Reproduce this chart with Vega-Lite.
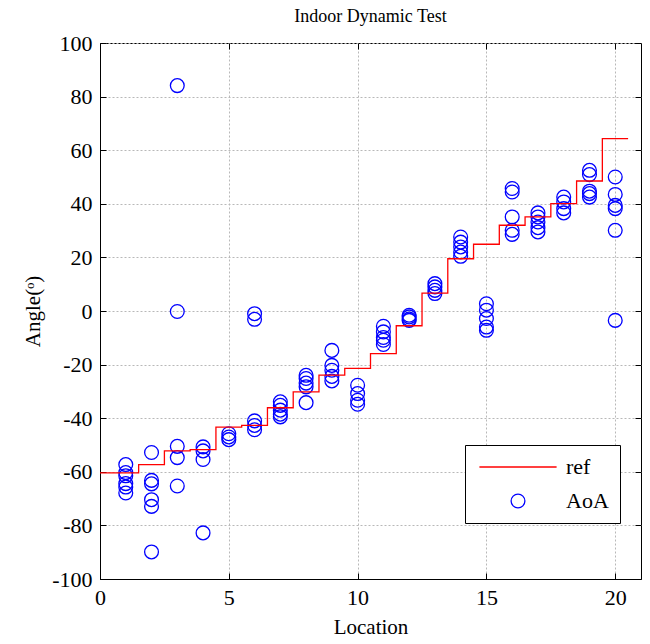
{
  "$schema": "https://vega.github.io/schema/vega-lite/v6.json",
  "width": 541,
  "height": 536,
  "autosize": "none",
  "padding": {"left": 100, "top": 43, "right": 9, "bottom": 65},
  "background": "white",
  "config": {
    "font": "Liberation Serif",
    "view": {"stroke": "black", "strokeWidth": 1},
    "axis": {"labelFont": "Liberation Serif", "titleFont": "Liberation Serif", "labelColor": "black", "titleColor": "black", "domainColor": "black", "tickColor": "black", "titleFontWeight": "normal"}
  },
  "title": {"text": "Indoor Dynamic Test", "fontSize": 18, "font": "Liberation Serif", "fontWeight": "normal", "color": "black", "offset": 6},
  "datasets": {
    "ref": [
      {"loc": 0, "angle": -60.4, "series": "ref"},
      {"loc": 1.5, "angle": -57.3, "series": "ref"},
      {"loc": 2.5, "angle": -52.2, "series": "ref"},
      {"loc": 3.5, "angle": -51.7, "series": "ref"},
      {"loc": 4.5, "angle": -43.3, "series": "ref"},
      {"loc": 5.5, "angle": -42.7, "series": "ref"},
      {"loc": 6.5, "angle": -36.1, "series": "ref"},
      {"loc": 7.5, "angle": -30.2, "series": "ref"},
      {"loc": 8.5, "angle": -23.9, "series": "ref"},
      {"loc": 9.5, "angle": -21.4, "series": "ref"},
      {"loc": 10.5, "angle": -15.9, "series": "ref"},
      {"loc": 11.5, "angle": -5.5, "series": "ref"},
      {"loc": 12.5, "angle": 6.7, "series": "ref"},
      {"loc": 13.5, "angle": 19.5, "series": "ref"},
      {"loc": 14.5, "angle": 24.9, "series": "ref"},
      {"loc": 15.5, "angle": 32.0, "series": "ref"},
      {"loc": 16.5, "angle": 35.1, "series": "ref"},
      {"loc": 17.5, "angle": 40.1, "series": "ref"},
      {"loc": 18.5, "angle": 48.5, "series": "ref"},
      {"loc": 19.5, "angle": 64.3, "series": "ref"},
      {"loc": 20.5, "angle": 64.3, "series": "ref"}
    ],
    "aoa": [
      {"loc": 1, "angle": -57.3, "series": "AoA"},
      {"loc": 1, "angle": -60.3, "series": "AoA"},
      {"loc": 1, "angle": -61.5, "series": "AoA"},
      {"loc": 1, "angle": -64.4, "series": "AoA"},
      {"loc": 1, "angle": -65.7, "series": "AoA"},
      {"loc": 1, "angle": -67.9, "series": "AoA"},
      {"loc": 2, "angle": -52.8, "series": "AoA"},
      {"loc": 2, "angle": -63.2, "series": "AoA"},
      {"loc": 2, "angle": -64.5, "series": "AoA"},
      {"loc": 2, "angle": -70.4, "series": "AoA"},
      {"loc": 2, "angle": -72.9, "series": "AoA"},
      {"loc": 2, "angle": -89.9, "series": "AoA"},
      {"loc": 3, "angle": 84.1, "series": "AoA"},
      {"loc": 3, "angle": -0.2, "series": "AoA"},
      {"loc": 3, "angle": -50.5, "series": "AoA"},
      {"loc": 3, "angle": -54.7, "series": "AoA"},
      {"loc": 3, "angle": -65.3, "series": "AoA"},
      {"loc": 4, "angle": -50.7, "series": "AoA"},
      {"loc": 4, "angle": -52.2, "series": "AoA"},
      {"loc": 4, "angle": -55.4, "series": "AoA"},
      {"loc": 4, "angle": -82.8, "series": "AoA"},
      {"loc": 5, "angle": -45.8, "series": "AoA"},
      {"loc": 5, "angle": -47.0, "series": "AoA"},
      {"loc": 5, "angle": -48.0, "series": "AoA"},
      {"loc": 6, "angle": -1.0, "series": "AoA"},
      {"loc": 6, "angle": -3.1, "series": "AoA"},
      {"loc": 6, "angle": -41.0, "series": "AoA"},
      {"loc": 6, "angle": -42.7, "series": "AoA"},
      {"loc": 6, "angle": -44.3, "series": "AoA"},
      {"loc": 7, "angle": -33.9, "series": "AoA"},
      {"loc": 7, "angle": -35.2, "series": "AoA"},
      {"loc": 7, "angle": -37.0, "series": "AoA"},
      {"loc": 7, "angle": -38.5, "series": "AoA"},
      {"loc": 7, "angle": -39.5, "series": "AoA"},
      {"loc": 8, "angle": -24.0, "series": "AoA"},
      {"loc": 8, "angle": -25.2, "series": "AoA"},
      {"loc": 8, "angle": -26.9, "series": "AoA"},
      {"loc": 8, "angle": -28.3, "series": "AoA"},
      {"loc": 8, "angle": -34.2, "series": "AoA"},
      {"loc": 9, "angle": -14.7, "series": "AoA"},
      {"loc": 9, "angle": -20.3, "series": "AoA"},
      {"loc": 9, "angle": -22.1, "series": "AoA"},
      {"loc": 9, "angle": -24.4, "series": "AoA"},
      {"loc": 9, "angle": -26.1, "series": "AoA"},
      {"loc": 10, "angle": -27.7, "series": "AoA"},
      {"loc": 10, "angle": -30.8, "series": "AoA"},
      {"loc": 10, "angle": -33.3, "series": "AoA"},
      {"loc": 10, "angle": -34.8, "series": "AoA"},
      {"loc": 11, "angle": -5.7, "series": "AoA"},
      {"loc": 11, "angle": -7.8, "series": "AoA"},
      {"loc": 11, "angle": -9.9, "series": "AoA"},
      {"loc": 11, "angle": -10.9, "series": "AoA"},
      {"loc": 11, "angle": -12.5, "series": "AoA"},
      {"loc": 12, "angle": -1.6, "series": "AoA"},
      {"loc": 12, "angle": -2.2, "series": "AoA"},
      {"loc": 12, "angle": -3.0, "series": "AoA"},
      {"loc": 12, "angle": -3.5, "series": "AoA"},
      {"loc": 13, "angle": 10.2, "series": "AoA"},
      {"loc": 13, "angle": 9.0, "series": "AoA"},
      {"loc": 13, "angle": 7.7, "series": "AoA"},
      {"loc": 13, "angle": 6.5, "series": "AoA"},
      {"loc": 14, "angle": 27.6, "series": "AoA"},
      {"loc": 14, "angle": 25.7, "series": "AoA"},
      {"loc": 14, "angle": 23.9, "series": "AoA"},
      {"loc": 14, "angle": 22.0, "series": "AoA"},
      {"loc": 14, "angle": 20.4, "series": "AoA"},
      {"loc": 15, "angle": 2.7, "series": "AoA"},
      {"loc": 15, "angle": 0.3, "series": "AoA"},
      {"loc": 15, "angle": -2.8, "series": "AoA"},
      {"loc": 15, "angle": -6.0, "series": "AoA"},
      {"loc": 15, "angle": -7.2, "series": "AoA"},
      {"loc": 16, "angle": 45.7, "series": "AoA"},
      {"loc": 16, "angle": 44.4, "series": "AoA"},
      {"loc": 16, "angle": 35.1, "series": "AoA"},
      {"loc": 16, "angle": 30.1, "series": "AoA"},
      {"loc": 16, "angle": 28.6, "series": "AoA"},
      {"loc": 17, "angle": 36.6, "series": "AoA"},
      {"loc": 17, "angle": 35.1, "series": "AoA"},
      {"loc": 17, "angle": 33.2, "series": "AoA"},
      {"loc": 17, "angle": 31.1, "series": "AoA"},
      {"loc": 17, "angle": 29.5, "series": "AoA"},
      {"loc": 18, "angle": 42.5, "series": "AoA"},
      {"loc": 18, "angle": 40.7, "series": "AoA"},
      {"loc": 18, "angle": 38.2, "series": "AoA"},
      {"loc": 18, "angle": 36.6, "series": "AoA"},
      {"loc": 19, "angle": 52.5, "series": "AoA"},
      {"loc": 19, "angle": 50.9, "series": "AoA"},
      {"loc": 19, "angle": 44.7, "series": "AoA"},
      {"loc": 19, "angle": 43.8, "series": "AoA"},
      {"loc": 19, "angle": 42.5, "series": "AoA"},
      {"loc": 20, "angle": 50.0, "series": "AoA"},
      {"loc": 20, "angle": 43.5, "series": "AoA"},
      {"loc": 20, "angle": 39.4, "series": "AoA"},
      {"loc": 20, "angle": 38.2, "series": "AoA"},
      {"loc": 20, "angle": 30.1, "series": "AoA"},
      {"loc": 20, "angle": -3.5, "series": "AoA"}
    ]
  },
  "resolve": {"axis": {"x": "independent", "y": "independent"}},
  "layer": [
    {
      "data": {"name": "aoa"},
      "mark": {"type": "point", "filled": false, "size": 190, "strokeWidth": 1.3, "opacity": 1},
      "encoding": {
        "x": {"field": "loc", "type": "quantitative", "scale": {"domain": [0, 21], "nice": false, "zero": false},
              "axis": {"orient": "bottom", "title": "Location", "titleFontSize": 21, "titlePadding": 8, "values": [0, 5, 10, 15, 20], "labelExpr": "toString(datum.value)", "labelFontSize": 22, "tickSize": -6, "labelPadding": 14, "grid": true, "gridDash": [2, 2], "gridColor": "#b8b8b8", "labelFlush": false}},
        "y": {"field": "angle", "type": "quantitative", "scale": {"domain": [-100, 100], "nice": false, "zero": false},
              "axis": {"orient": "left", "title": "Angle(ᵒ)", "titleFontSize": 21, "titlePadding": 8, "values": [-100, -80, -60, -40, -20, 0, 20, 40, 60, 80, 100], "labelExpr": "toString(datum.value)", "labelFontSize": 22, "tickSize": -6, "labelPadding": 14, "grid": true, "gridDash": [2, 2], "gridColor": "#b8b8b8", "labelFlush": false}},
        "color": {"field": "series", "type": "nominal", "scale": {"domain": ["ref", "AoA"], "range": ["#ff0000", "#0000ff"]},
                  "legend": {"title": null, "orient": "none", "legendX": 365, "legendY": 402, "labelFontSize": 22, "labelFont": "Liberation Serif", "labelColor": "black", "fillColor": "white", "strokeColor": "black", "padding": 11, "symbolSize": 190, "symbolStrokeWidth": 1.3, "symbolOffset": 31, "labelOffset": 37, "rowPadding": 12, "symbolFillColor": "transparent"}},
        "shape": {"field": "series", "type": "nominal", "scale": {"domain": ["ref", "AoA"], "range": ["M-5.6,0H5.6", "circle"]},
                  "legend": {"title": null, "orient": "none", "legendX": 365, "legendY": 402, "labelFontSize": 22, "labelFont": "Liberation Serif", "labelColor": "black", "fillColor": "white", "strokeColor": "black", "padding": 11, "symbolSize": 190, "symbolStrokeWidth": 1.3, "symbolOffset": 31, "labelOffset": 37, "rowPadding": 12, "symbolFillColor": "transparent"}}
      }
    },
    {
      "data": {"name": "ref"},
      "mark": {"type": "line", "interpolate": "step-after", "strokeWidth": 1.3},
      "encoding": {
        "x": {"field": "loc", "type": "quantitative", "axis": {"orient": "top", "title": null, "labels": false, "grid": false, "values": [0, 5, 10, 15, 20], "tickSize": -6, "domain": false}},
        "y": {"field": "angle", "type": "quantitative", "axis": {"orient": "right", "title": null, "labels": false, "grid": false, "values": [-100, -80, -60, -40, -20, 0, 20, 40, 60, 80, 100], "tickSize": -6, "domain": false}},
        "color": {"field": "series", "type": "nominal"}
      }
    }
  ]
}
